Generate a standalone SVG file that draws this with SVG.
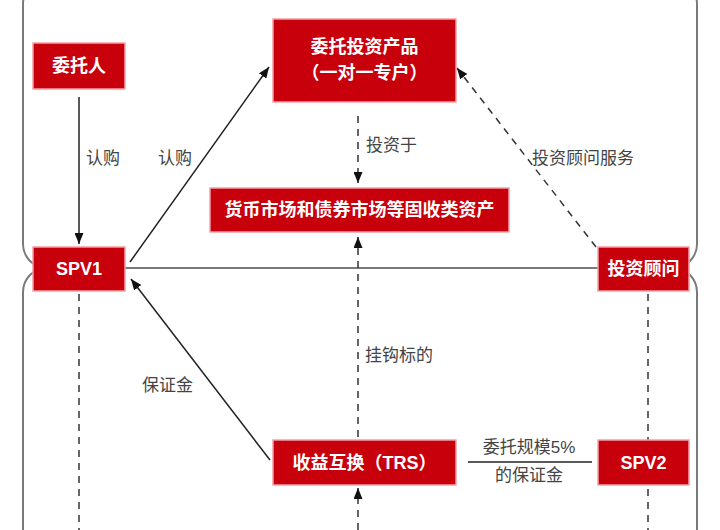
<svg xmlns="http://www.w3.org/2000/svg" width="720" height="530" viewBox="0 0 720 530">
<style>
.container{fill:none;stroke:#7a7a7a;stroke-width:2}
.node rect{fill:#c8000c;stroke:#f4a0a6;stroke-width:1.5}
.node text{fill:#ffffff;font-family:"Liberation Sans","Noto Sans CJK SC",sans-serif;font-size:18px;font-weight:bold;text-anchor:middle;dominant-baseline:central}
.lbl{fill:#444;font-family:"Liberation Sans","Noto Sans CJK SC",sans-serif;font-size:17px;dominant-baseline:central}
.solid{fill:none;stroke:#222;stroke-width:1.5}
.dash{fill:none;stroke:#333;stroke-width:1.5;stroke-dasharray:7 6}
</style>
<defs>
<marker id="arr" markerUnits="userSpaceOnUse" markerWidth="11" markerHeight="9" refX="11" refY="4.5" orient="auto">
<path d="M0,0 L11,4.5 L0,9 z" fill="#111"/>
</marker>
</defs>
<rect width="720" height="530" fill="#ffffff"/>
<g id="containers">
<rect class="container" x="23" y="-20" width="674" height="288" rx="24"/>
<rect class="container" x="23" y="268" width="674" height="300" rx="24"/>
</g>
<g id="connectors">
<path class="solid" d="M79,97 L79,244" marker-end="url(#arr)"/>
<path class="solid" d="M130,262 L269,67" marker-end="url(#arr)"/>
<path class="dash" d="M358,116 L358,183" marker-end="url(#arr)"/>
<path class="dash" d="M596,247 L457,68" marker-end="url(#arr)"/>
<path class="dash" d="M358,437 L358,237" marker-end="url(#arr)"/>
<path class="solid" d="M270,460 L131,279" marker-end="url(#arr)"/>
<path class="solid" d="M468,462 L592,462" stroke="#333"/>
<path class="dash" d="M79,294 L79,530"/>
<path class="dash" d="M648,294 L648,530"/>
<path class="dash" d="M358,530 L358,488" marker-end="url(#arr)"/>
</g>
<g id="labels">
<text class="lbl" x="103" y="158" text-anchor="middle">认购</text>
<text class="lbl" x="175" y="158" text-anchor="middle">认购</text>
<text class="lbl" x="366" y="145">投资于</text>
<text class="lbl" x="532" y="158">投资顾问服务</text>
<text class="lbl" x="365" y="355">挂钩标的</text>
<text class="lbl" x="142" y="385">保证金</text>
<text class="lbl" x="529" y="447" text-anchor="middle">委托规模5%</text>
<text class="lbl" x="529" y="475" text-anchor="middle">的保证金</text>
</g>
<g id="node-weituoren" class="node">
<rect x="33" y="43" width="92" height="46"/>
<text x="79" y="66">委托人</text>
</g>
<g id="node-product" class="node">
<rect x="273" y="19" width="183" height="83"/>
<text x="364.5" y="47">委托投资产品</text>
<text x="364.5" y="73">（一对一专户）</text>
</g>
<g id="node-assets" class="node">
<rect x="210" y="188" width="299" height="44"/>
<text x="359.5" y="210">货币市场和债券市场等固收类资产</text>
</g>
<g id="node-spv1" class="node">
<rect x="33" y="247" width="92" height="44"/>
<text x="79" y="269">SPV1</text>
</g>
<g id="node-advisor" class="node">
<rect x="598" y="247" width="91" height="44"/>
<text x="643.5" y="269">投资顾问</text>
</g>
<g id="node-trs" class="node">
<rect x="273" y="440" width="183" height="45"/>
<text x="364.5" y="462.5">收益互换（TRS）</text>
</g>
<g id="node-spv2" class="node">
<rect x="598" y="440" width="91" height="45"/>
<text x="643.5" y="462.5">SPV2</text>
</g>
</svg>
